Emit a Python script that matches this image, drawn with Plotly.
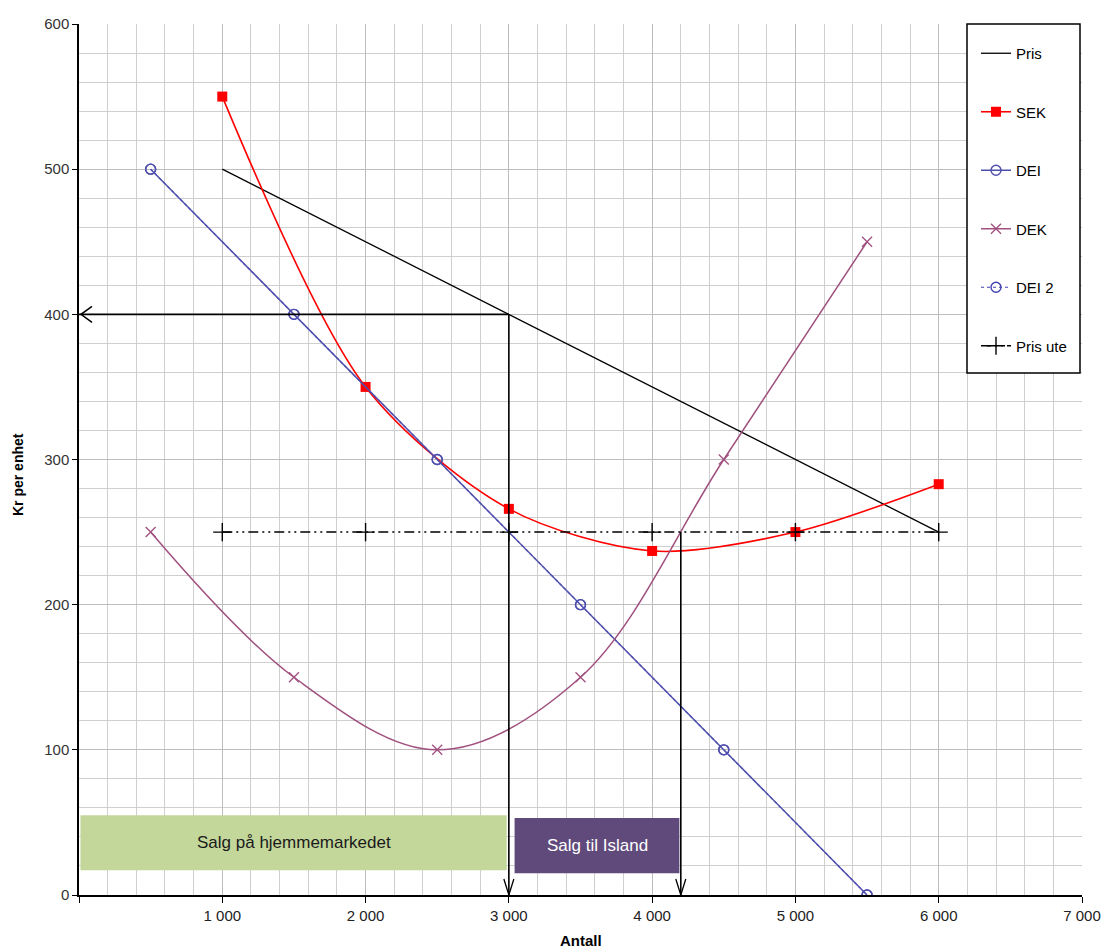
import plotly.graph_objects as go

# ---- data ----
pris_x = [1000, 2000, 3000, 4000, 5000, 6000]
pris_y = [500, 450, 400, 350, 300, 250]

sek_x = [1000, 2000, 3000, 4000, 5000, 6000]
sek_y = [550, 350, 266, 237, 250, 283]

dei_x = [500, 1500, 2500, 3500, 4500, 5500]
dei_y = [500, 400, 300, 200, 100, 0]

dek_x = [500, 1500, 2500, 3500, 4500, 5500]
dek_y = [250, 150, 100, 150, 300, 450]

dei2_x = dei_x
dei2_y = dei_y

ute_x = [1000, 2000, 3000, 4000, 5000, 6000]
ute_y = [250, 250, 250, 250, 250, 250]

home_qty, home_price = 3000, 400
export_qty, export_price = 4200, 250

x_ticks = [0, 1000, 2000, 3000, 4000, 5000, 6000, 7000]
x_ticktext = ["", "1 000", "2 000", "3 000", "4 000", "5 000", "6 000", "7 000"]
y_ticks = [0, 100, 200, 300, 400, 500, 600]

# layout geometry
W, H = 1106, 949
ML, MR, MT, MB = 79, 24, 24, 54
PW, PH = W - ML - MR, H - MT - MB
XMAX, YMAX = 7000, 600
ux = XMAX / PW   # data units per pixel
uy = YMAX / PH

fig = go.Figure()

fig.add_trace(go.Scatter(x=pris_x, y=pris_y, name="Pris", mode="lines",
                         line=dict(color="black", width=1.3), legendrank=1, legendgroup="g1"))
fig.add_trace(go.Scatter(x=sek_x, y=sek_y, name="SEK", mode="lines+markers",
                         line=dict(color="#ff0000", width=1.6, shape="spline", smoothing=0.85),
                         marker=dict(symbol="square", size=10, color="#ff0000"), legendrank=2, legendgroup="g2"))
fig.add_trace(go.Scatter(x=dei2_x, y=dei2_y, name="DEI 2", mode="lines+markers",
                         line=dict(color="#4040b0", width=1.2, dash="dot"),
                         marker=dict(symbol="circle-open", size=10, color="#4040b0", line=dict(width=1.4)),
                         legendrank=5, legendgroup="g5"))
fig.add_trace(go.Scatter(x=dei_x, y=dei_y, name="DEI", mode="lines+markers",
                         line=dict(color="#4f4fad", width=1.5),
                         marker=dict(symbol="circle-open", size=10, color="#4f4fad", line=dict(width=1.4)),
                         legendrank=3, legendgroup="g3"))
fig.add_trace(go.Scatter(x=dek_x, y=dek_y, name="DEK", mode="lines+markers",
                         line=dict(color="#a0507f", width=1.5, shape="spline", smoothing=1.0),
                         marker=dict(symbol="x-thin", size=10, color="#a0507f", line=dict(width=1.3, color="#a0507f")),
                         legendrank=4, legendgroup="g4"))
fig.add_trace(go.Scatter(x=ute_x, y=ute_y, name="Pris ute", mode="lines+markers",
                         line=dict(color="black", width=1.5, dash="10px,4px,2px,4px,2px,4px"),
                         marker=dict(symbol="cross-thin", size=13, color="black", line=dict(width=1.4, color="black")),
                         legendrank=6, legendgroup="g6"))

shapes = []
lw = 1.6
# horizontal arrow to y-axis
shapes.append(dict(type="line", x0=home_qty, y0=home_price, x1=0, y1=home_price,
                   line=dict(color="black", width=lw)))
# vertical arrows
shapes.append(dict(type="line", x0=home_qty, y0=home_price, x1=home_qty, y1=0,
                   line=dict(color="black", width=lw)))
shapes.append(dict(type="line", x0=export_qty, y0=export_price, x1=export_qty, y1=0,
                   line=dict(color="black", width=lw)))

def vhead_down(x, y):
    return dict(type="path",
                path=f"M {x-5*ux},{y+16*uy} L {x},{y} L {x+5*ux},{y+16*uy}",
                line=dict(color="black", width=1.3))

def vhead_left(x, y):
    return dict(type="path",
                path=f"M {x+13*ux},{y+8*uy} L {x+2*ux},{y} L {x+13*ux},{y-8*uy}",
                line=dict(color="black", width=1.5))

shapes.append(vhead_left(0, home_price))
shapes.append(vhead_down(home_qty, 0))
shapes.append(vhead_down(export_qty, 0))

# boxes
shapes.append(dict(type="rect", x0=10, x1=2985, y0=17, y1=55,
                   fillcolor="#c4d79b", line=dict(width=0), layer="above"))
shapes.append(dict(type="rect", x0=3040, x1=export_qty - 10, y0=15, y1=53,
                   fillcolor="#604a7b", line=dict(width=0), layer="above"))

# legend frame (paper coords)
lx0, lx1 = (967 - ML) / PW, (1080 - ML) / PW
ly0, ly1 = (895 - 373) / PH, (895 - 24) / PH
shapes.append(dict(type="rect", xref="paper", yref="paper", x0=lx0, x1=lx1, y0=ly0, y1=ly1,
                   fillcolor="white", line=dict(color="black", width=1.5), layer="above"))

fig.update_layout(shapes=shapes)

box_font = "Liberation Sans Narrow, Arial Narrow, sans-serif"
fig.add_annotation(x=1500, y=36, text="Salg på hjemmemarkedet", showarrow=False,
                   font=dict(family=box_font, size=17, color="#1a1a1a"))
fig.add_annotation(x=(3040 + export_qty) / 2, y=34, text="Salg til Island", showarrow=False,
                   font=dict(family=box_font, size=17, color="white"))

fig.add_annotation(xref="paper", yref="paper", x=0.5, y=-(940 - 895) / PH, text="<b>Antall</b>",
                   showarrow=False, yanchor="middle",
                   font=dict(family="Liberation Sans, Arial", size=15, color="black"))
fig.add_annotation(xref="paper", yref="paper", x=(18 - ML) / PW, y=(895 - 475) / PH, text="<b>Kr per enhet</b>",
                   showarrow=False, textangle=-90, xanchor="center", yanchor="middle",
                   font=dict(family="Liberation Sans, Arial", size=14, color="black"))

fig.update_xaxes(range=[0, XMAX], tickvals=x_ticks, ticktext=x_ticktext, automargin=False,
                 showgrid=True, gridcolor="#bdbdbd", gridwidth=1,
                 minor=dict(dtick=200, showgrid=True, gridcolor="#cfcfcf", gridwidth=1),
                 showline=True, linecolor="black", linewidth=1.5,
                 ticks="outside", ticklen=6, tickcolor="black",
                 tickfont=dict(family="Liberation Sans Narrow, Arial Narrow, sans-serif", size=15, color="#222"),
                 zeroline=False, fixedrange=True)
fig.update_yaxes(range=[0, YMAX], tickvals=y_ticks, automargin=False,
                 showgrid=True, gridcolor="#bdbdbd", gridwidth=1,
                 minor=dict(dtick=20, showgrid=True, gridcolor="#cfcfcf", gridwidth=1),
                 showline=True, linecolor="black", linewidth=1.5,
                 ticks="outside", ticklen=5, tickcolor="black",
                 tickfont=dict(family="Liberation Sans, Arial", size=15, color="#333"),
                 zeroline=False, fixedrange=True)

fig.update_layout(
    width=W, height=H,
    margin=dict(l=ML, r=MR, t=MT, b=MB, autoexpand=False),
    paper_bgcolor="white", plot_bgcolor="white",
    showlegend=True,
    legend=dict(x=(976 - ML) / PW, y=(895 - 37) / PH, xanchor="left", yanchor="top",
                bgcolor="rgba(255,255,255,0)", borderwidth=0,
                font=dict(family="Liberation Sans, Arial", size=15, color="black"),
                tracegroupgap=36, traceorder="grouped"),
)

fig.write_html("out.html")
